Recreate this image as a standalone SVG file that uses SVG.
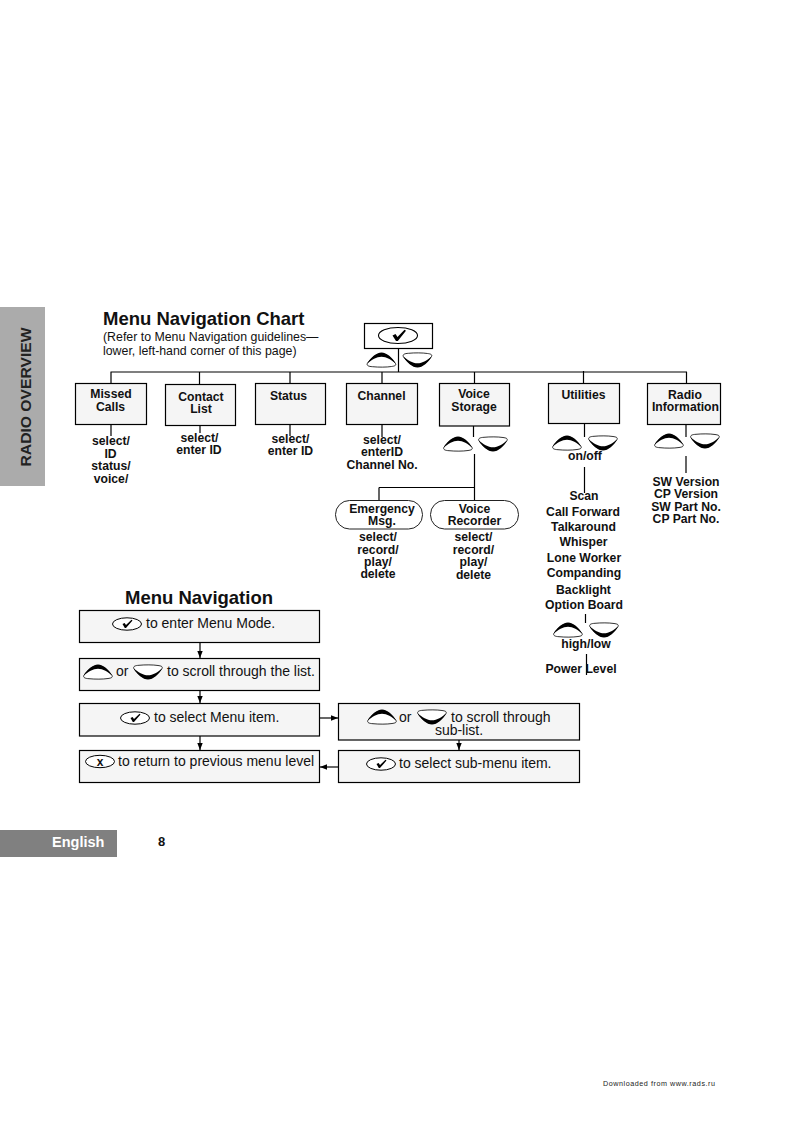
<svg xmlns="http://www.w3.org/2000/svg" width="793" height="1122" viewBox="0 0 793 1122">
<style>
text{font-family:"Liberation Sans",Arial,sans-serif;fill:#111}
.b{font-weight:bold;font-size:12.2px;text-anchor:middle}
.n{font-size:14px}
.box{fill:#f5f5f5;stroke:#000;stroke-width:1.2}
.pill{fill:#fff;stroke:#222;stroke-width:1}
.c{fill:none;stroke:#000;stroke-width:1.2}
</style>
<defs>
<g id="up"><path d="M0.8 11C0 13 2 14 6 14.200C12 14.800 20 14.800 25 14C28 13.600 30 13 29 11C25 6 20 1 15 1C10 1 4 6 0.800 11Z" fill="#fff" stroke="#000" stroke-width="0.8"/><path d="M0.800 11C4 5 10 0 15 0C20 0 26 5 29.200 11C25 7.500 20 4.200 15 4.200C10 4.200 5 7.500 0.800 11Z" fill="#000"/></g>
<g id="down"><path d="M0.800 4C0 2 2 1 6 0.800C12 0.200 20 0.200 25 1C28 1.400 30 2 29 4C25 9 20 14 15 14C10 14 4 9 0.800 4Z" fill="#fff" stroke="#000" stroke-width="0.8"/><path d="M0.800 4C4 10 10 15 15 15C20 15 26 10 29.200 4C25 7.500 20 10.800 15 10.800C10 10.800 5 7.500 0.800 4Z" fill="#000"/></g>
<g id="ok"><ellipse cx="15" cy="6" rx="14.500" ry="6.200" fill="#fff" stroke="#000" stroke-width="1"/><path d="M10.500 6L12.600 5L14 7L19.500 1.800L20.500 2.600L14 10L12.800 10Z" fill="#000"/></g>
<g id="okbig"><ellipse cx="20" cy="8.500" rx="19.500" ry="8" fill="#fff" stroke="#000" stroke-width="1.100"/><path d="M14.500 8.500L17.500 7L19.500 10L26.500 2.800L28 3.800L19.800 14L18 14Z" fill="#000"/></g>
<marker id="ah" markerUnits="userSpaceOnUse" markerWidth="8" markerHeight="8" refX="7" refY="4" orient="auto"><path d="M0 1.300L7 4L0 6.700Z" fill="#000"/></marker>
</defs>
<rect width="793" height="1122" fill="#fff"/>

<g id="sidebar"><rect x="0" y="307" width="45" height="179" fill="#ababab"/><text transform="translate(31 466.500) rotate(-90)" font-size="14.600" font-weight="bold" textLength="139" lengthAdjust="spacingAndGlyphs" style="fill:#222">RADIO OVERVIEW</text></g>
<g id="footer"><rect x="0" y="830" width="117" height="27" fill="#808080"/><text x="52" y="847" font-size="14.500" font-weight="bold" style="fill:#fff">English</text><text x="158" y="846" font-size="13" font-weight="bold">8</text><text x="603" y="1086" font-size="7.200" style="fill:#222" textLength="112">Downloaded from  www.rads.ru</text></g>
<g id="titles"><text x="103" y="325" font-size="18.500" font-weight="bold">Menu Navigation Chart</text><text x="103" y="341" font-size="12.350">(Refer to Menu Navigation guidelines—</text><text x="103" y="355" font-size="12.350">lower, left-hand corner of this page)</text><text x="125" y="604" font-size="18.500" font-weight="bold">Menu Navigation</text></g>

<g id="connectors" class="c">
<path class="c" d="M398.500 348V372M110.500 372H687M111 372V383M199.500 372V384M290 372V383M382 372V383M474.500 372V383M583.500 371V383M686.500 372V383"/>
<path class="c" d="M111 424V436M200 425V433M290 424V436M382 424V437M473.500 426V437M474.500 454V500M379 487.500H475M379 487.500V500M584.500 424V437M584.500 467V493M686 425V437M686 456V473M585.500 614V623M586.500 654V675"/>
<path class="c" d="M200 642V658" marker-end="url(#ah)"/><path class="c" d="M200 690V703" marker-end="url(#ah)"/><path class="c" d="M200 736V750" marker-end="url(#ah)"/>
<path class="c" d="M320 718H338" marker-end="url(#ah)"/><path class="c" d="M338 767H320" marker-end="url(#ah)"/><path class="c" d="M459 728V750" marker-end="url(#ah)"/>
</g>

<g id="root"><rect class="box" style="fill:#fff" x="364.500" y="323.500" width="68" height="25"/><use href="#okbig" x="378" y="327"/><use href="#up" x="366.500" y="352.500"/><use href="#down" x="402.500" y="352.500"/></g>
<g id="missed"><rect class="box" x="75.500" y="383.500" width="71" height="41"/><text class="b" x="111" y="398">Missed</text><text class="b" x="110.500" y="411">Calls</text><text class="b" x="111" y="445">select/</text><text class="b" x="110.500" y="458">ID</text><text class="b" x="111" y="470">status/</text><text class="b" x="111" y="483">voice/</text></g>
<g id="contact"><rect class="box" x="165.500" y="384.500" width="70" height="41"/><text class="b" x="201" y="401">Contact</text><text class="b" x="201" y="413">List</text><text class="b" x="199.500" y="442">select/</text><text class="b" x="199" y="454">enter ID</text></g>
<g id="status"><rect class="box" x="255.500" y="383.500" width="70" height="41"/><text class="b" x="288.500" y="400">Status</text><text class="b" x="290.500" y="443">select/</text><text class="b" x="290.500" y="455">enter ID</text></g>
<g id="channel"><rect class="box" x="346.500" y="383.500" width="71" height="41"/><text class="b" x="381.500" y="400">Channel</text><text class="b" x="382" y="444">select/</text><text class="b" x="382" y="456">enterID</text><text class="b" x="382" y="469">Channel No.</text></g>
<g id="voice-storage"><rect class="box" x="439.500" y="383.500" width="70" height="42.500"/><text class="b" x="474" y="398">Voice</text><text class="b" x="474" y="411">Storage</text><use href="#up" x="443" y="436.500"/><use href="#down" x="478" y="436.500"/></g>
<g id="utilities"><rect class="box" x="548.500" y="383.500" width="71" height="40"/><text class="b" x="583.500" y="399">Utilities</text><use href="#up" x="552" y="435.500"/><use href="#down" x="588" y="435.500"/><text class="b" x="585" y="460">on/off</text>
<text class="b" x="584" y="500">Scan</text><text class="b" x="583" y="516">Call Forward</text><text class="b" x="583.500" y="531">Talkaround</text><text class="b" x="583.500" y="546">Whisper</text><text class="b" x="584" y="562">Lone Worker</text><text class="b" x="584" y="577">Companding</text><text class="b" x="583.500" y="594">Backlight</text><text class="b" x="584" y="609">Option Board</text><use href="#up" x="553" y="622.500"/><use href="#down" x="589" y="622.500"/><text class="b" x="586" y="648">high/low</text><text class="b" x="581" y="673">Power Level</text></g>
<g id="radio"><rect class="box" x="647.500" y="383.500" width="73" height="41"/><text class="b" x="685" y="399">Radio</text><text class="b" x="685.500" y="411">Information</text><use href="#up" x="654" y="433.500"/><use href="#down" x="690" y="433.500"/><text class="b" x="686" y="486">SW Version</text><text class="b" x="686" y="498">CP Version</text><text class="b" x="686" y="511">SW Part No.</text><text class="b" x="686" y="523">CP Part No.</text></g>
<g id="emergency"><rect class="pill" x="335.500" y="500.500" width="87" height="28.500" rx="14"/><text class="b" x="382" y="513">Emergency</text><text class="b" x="382" y="525">Msg.</text><text class="b" x="378" y="541">select/</text><text class="b" x="378" y="554">record/</text><text class="b" x="378" y="566">play/</text><text class="b" x="378" y="578">delete</text></g>
<g id="recorder"><rect class="pill" x="430.500" y="500.500" width="88" height="28.500" rx="14"/><text class="b" x="474.500" y="513">Voice</text><text class="b" x="474.500" y="525">Recorder</text><text class="b" x="473.500" y="541">select/</text><text class="b" x="473.500" y="554">record/</text><text class="b" x="473.500" y="566">play/</text><text class="b" x="473.500" y="579">delete</text></g>

<g id="nav1"><rect class="box" x="79.500" y="610.500" width="240" height="32"/><use href="#ok" x="112" y="618"/><text class="n" x="146" y="628">to enter Menu Mode.</text></g>
<g id="nav2"><rect class="box" x="79.500" y="658.500" width="240" height="32"/><use href="#up" x="83" y="664.500"/><text class="n" x="116" y="676">or</text><use href="#down" x="133" y="664.500"/><text class="n" x="167" y="676">to scroll through the list.</text></g>
<g id="nav3"><rect class="box" x="79.500" y="703.500" width="240" height="32.500"/><use href="#ok" x="120" y="712"/><text class="n" x="154" y="722">to select Menu item.</text></g>
<g id="nav4"><rect class="box" x="79.500" y="750.500" width="240" height="32"/><ellipse cx="100" cy="761.500" rx="14.500" ry="6.200" fill="#fff" stroke="#000"/><text x="100" y="765.500" font-size="12" font-weight="bold" text-anchor="middle">x</text><text class="n" x="118" y="766">to return to previous menu level</text></g>
<g id="nav5"><rect class="box" x="338.500" y="703.500" width="241" height="36.500"/><use href="#up" x="367" y="709.500"/><text class="n" x="399" y="722">or</text><use href="#down" x="417" y="709.500"/><text class="n" x="451" y="722">to scroll through</text><text class="n" x="459" y="735" text-anchor="middle">sub-list.</text></g>
<g id="nav6"><rect class="box" x="338.500" y="750.500" width="241" height="32"/><use href="#ok" x="366" y="758"/><text class="n" x="399" y="768">to select sub-menu item.</text></g>
</svg>
